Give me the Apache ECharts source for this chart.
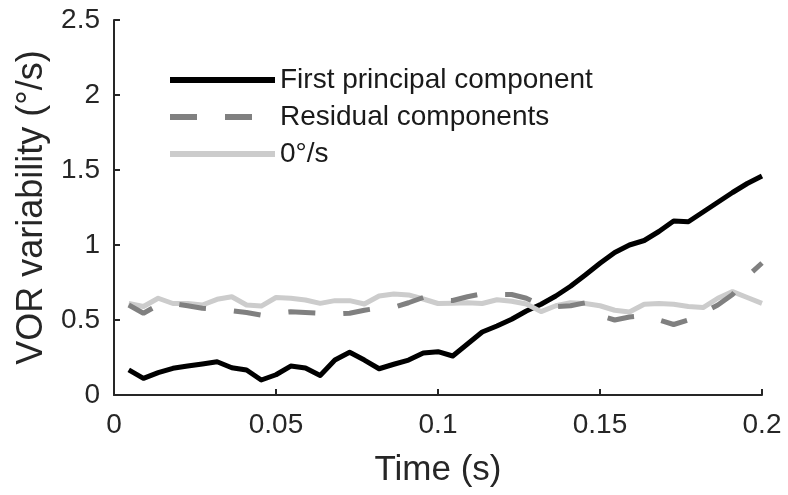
<!DOCTYPE html>
<html>
<head>
<meta charset="utf-8">
<script src="https://cdn.jsdelivr.net/npm/echarts@6/dist/echarts.min.js"></script>
<style>
  html, body { margin: 0; padding: 0; background: #fff; }
  #chart { width: 788px; height: 495px; }
</style>
</head>
<body>
<div id="chart"></div>
<script>
// Sample times (s)
const times = [
  0.00455, 0.00909, 0.01364, 0.01818, 0.02273, 0.02727, 0.03182, 0.03636, 0.04091, 0.04545,
  0.05, 0.05455, 0.05909, 0.06364, 0.06818, 0.07273, 0.07727, 0.08182, 0.08636, 0.09091,
  0.09545, 0.1, 0.10455, 0.10909, 0.11364, 0.11818, 0.12273, 0.12727, 0.13182, 0.13636,
  0.14091, 0.14545, 0.15, 0.15455, 0.15909, 0.16364, 0.16818, 0.17273, 0.17727, 0.18182,
  0.18636, 0.19091, 0.19545, 0.2
];

// VOR variability (deg/s)
const firstPrincipal = [
  0.167, 0.111, 0.149, 0.178, 0.193, 0.207, 0.222, 0.182, 0.167, 0.10,
  0.135, 0.193, 0.18, 0.13, 0.233, 0.285, 0.233, 0.175, 0.205, 0.233,
  0.28, 0.289, 0.26, 0.34, 0.42, 0.46, 0.505, 0.56, 0.605, 0.66,
  0.725, 0.80, 0.878, 0.95, 1.0, 1.03, 1.09, 1.16, 1.155, 1.22,
  1.285, 1.35, 1.41, 1.46
];
const residual = [
  0.60, 0.545, 0.60, 0.61, 0.595, 0.578, 0.57, 0.562, 0.55, 0.533,
  0.545, 0.555, 0.55, 0.545, 0.54, 0.545, 0.565, 0.58, 0.585, 0.615,
  0.65, 0.63, 0.63, 0.655, 0.675, 0.67, 0.67, 0.645, 0.60, 0.59,
  0.595, 0.615, 0.53, 0.50, 0.52, 0.53, 0.50, 0.47, 0.50, 0.55,
  0.60, 0.67, 0.79, 0.88
];
const zeroVelocity = [
  0.61, 0.59, 0.645, 0.61, 0.61, 0.60, 0.638, 0.655, 0.60, 0.593,
  0.65, 0.645, 0.633, 0.611, 0.629, 0.629, 0.607, 0.66, 0.673, 0.667,
  0.64, 0.61, 0.612, 0.615, 0.61, 0.635, 0.625, 0.607, 0.556, 0.595,
  0.615, 0.61, 0.595, 0.565, 0.553, 0.605, 0.61, 0.605, 0.59, 0.583,
  0.645, 0.689, 0.65, 0.611
];

const seriesNames = ['First principal component', 'Residual components', '0°/s'];
const xTicks = ['0', '0.05', '0.1', '0.15', '0.2'];
const yTicks = ['0', '0.5', '1', '1.5', '2', '2.5'];

const FONT = '"Liberation Sans", Arial, Helvetica, sans-serif';
const AXIS = '#262626';

function pairs(ys) {
  return times.map((t, i) => [t, ys[i]]);
}

const chart = echarts.init(document.getElementById('chart'), null, { renderer: 'canvas' });

chart.setOption({
  animation: false,
  backgroundColor: '#ffffff',
  textStyle: { fontFamily: FONT },
  grid: { left: 114, right: 26, top: 20, bottom: 100, containLabel: false },
  legend: {
    data: seriesNames,
    orient: 'vertical',
    left: 162,
    top: 61,
    itemWidth: 105,
    itemHeight: 14,
    itemGap: 9,
    itemStyle: { opacity: 0 },
    lineStyle: { width: 6 },
    textStyle: { fontFamily: FONT, fontSize: 28, color: '#1a1a1a' }
  },
  xAxis: {
    type: 'value',
    min: 0,
    max: 0.2,
    interval: 0.05,
    name: 'Time (s)',
    nameLocation: 'middle',
    nameGap: 58,
    nameTextStyle: { fontFamily: FONT, fontSize: 35, color: AXIS },
    axisLine: { show: true, lineStyle: { color: AXIS, width: 2 } },
    axisTick: { show: true, inside: true, length: 6, lineStyle: { color: AXIS, width: 2 } },
    axisLabel: {
      fontFamily: FONT, fontSize: 28, color: AXIS, margin: 16,
      formatter: (v) => xTicks[Math.round(v / 0.05)]
    },
    splitLine: { show: false }
  },
  yAxis: {
    type: 'value',
    min: 0,
    max: 2.5,
    interval: 0.5,
    name: 'VOR variability (°/s)',
    nameLocation: 'middle',
    nameGap: 52,
    nameTextStyle: { fontFamily: FONT, fontSize: 36, color: AXIS },
    axisLine: { show: true, lineStyle: { color: AXIS, width: 2 } },
    axisTick: { show: true, inside: true, length: 6, lineStyle: { color: AXIS, width: 2 } },
    axisLabel: {
      fontFamily: FONT, fontSize: 28, color: AXIS, margin: 14,
      formatter: (v) => yTicks[Math.round(v / 0.5)]
    },
    splitLine: { show: false }
  },
  series: [
    {
      name: seriesNames[0],
      type: 'line',
      data: pairs(firstPrincipal),
      showSymbol: false,
      symbol: 'none',
      z: 2,
      lineStyle: { color: '#000000', width: 5, join: 'round' },
      itemStyle: { color: '#000000' }
    },
    {
      name: seriesNames[2],
      type: 'line',
      data: pairs(zeroVelocity),
      showSymbol: false,
      symbol: 'none',
      z: 3,
      lineStyle: { color: '#cccccc', width: 5, join: 'round' },
      itemStyle: { color: '#cccccc' }
    },
    {
      name: seriesNames[1],
      type: 'line',
      data: pairs(residual),
      showSymbol: false,
      symbol: 'none',
      z: 4,
      lineStyle: { color: '#808080', width: 5, type: [27, 28] },
      itemStyle: { color: '#808080' }
    }
  ]
});
</script>
</body>
</html>
